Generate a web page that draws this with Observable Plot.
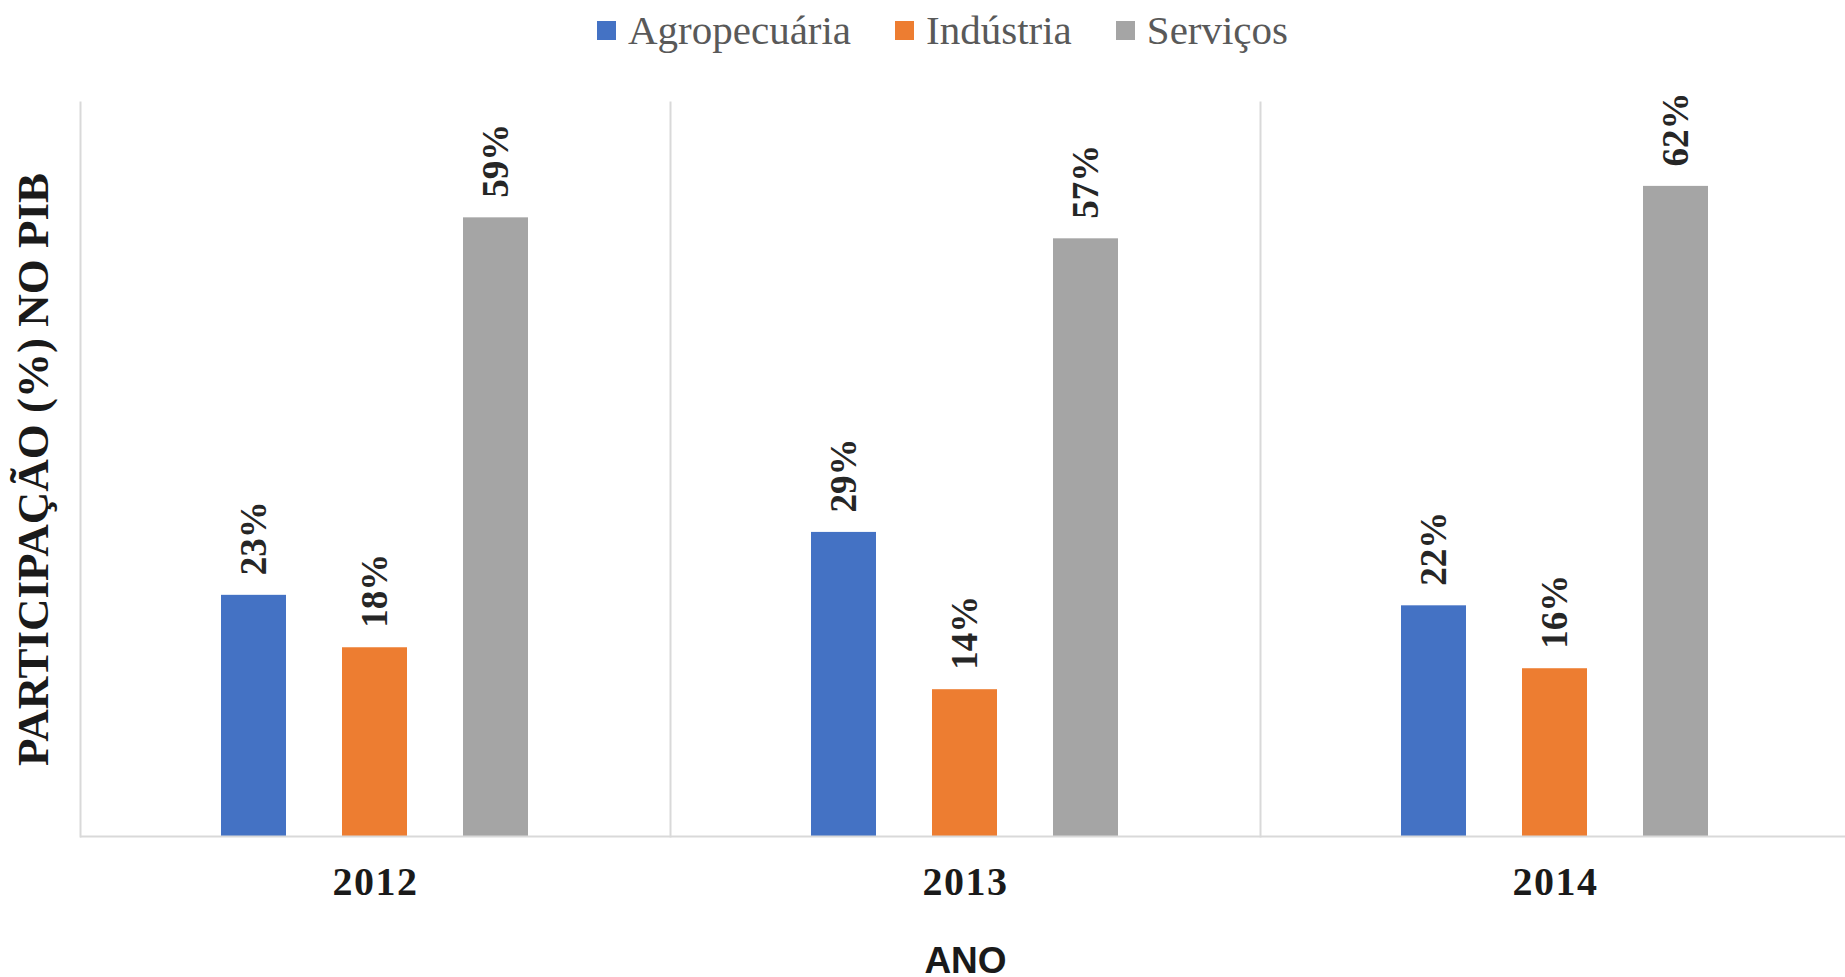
<!DOCTYPE html>
<html>
<head>
<meta charset="utf-8">
<script src="https://cdn.jsdelivr.net/npm/d3@7"></script>
<script src="https://cdn.jsdelivr.net/npm/@observablehq/plot@0.6"></script>
<style>
  html, body { margin: 0; padding: 0; background: #fff; overflow: hidden; }
  #legend {
    width: 1845px; height: 60px; display: flex; align-items: center; justify-content: center;
    padding-left: 40px; box-sizing: border-box;
    font-family: "Liberation Serif", serif; font-size: 41px; color: #595959; line-height: 1;
  }
  .item { display: flex; align-items: center; margin: 0 22px; }
  .sw { width: 19px; height: 19px; margin-right: 12px; }
  #chart svg { display: block; }
  g[aria-label="fx-axis tick label"] text { letter-spacing: 1.5px; }
</style>
</head>
<body>
<div id="legend"></div>
<div id="chart"></div>
<script>
const years = ["2012", "2013", "2014"];
const sectors = ["Agropecuária", "Indústria", "Serviços"];
const agropecuaria = [23, 29, 22];
const industria = [18, 14, 16];
const servicos = [59, 57, 62];
const colors = ["#4472C4", "#ED7D31", "#A5A5A5"];
const yLabel = "PARTICIPAÇÃO (%) NO PIB";
const xLabel = "ANO";

const seriesValues = [agropecuaria, industria, servicos];
const data = years.flatMap((year, i) =>
  sectors.map((sector, j) => ({ year, sector, value: seriesValues[j][i] }))
);

// Legend
const legend = document.getElementById("legend");
sectors.forEach((s, i) => {
  const it = document.createElement("div");
  it.className = "item";
  const sw = document.createElement("span");
  sw.className = "sw";
  sw.style.background = colors[i];
  const t = document.createElement("span");
  t.textContent = s;
  it.appendChild(sw); it.appendChild(t);
  legend.appendChild(it);
});

const serif = "Liberation Serif, Times New Roman, serif";
const chart = Plot.plot({
  width: 1851,
  height: 917,
  marginTop: 42,
  marginBottom: 141,
  marginLeft: 79,
  marginRight: 0,
  style: { fontFamily: serif, background: "white", overflow: "visible", maxWidth: "none" },
  fx: { domain: years, padding: 0, label: null },
  x: { domain: sectors, paddingInner: 0.46, paddingOuter: 1.164, axis: null },
  y: { domain: [0, 70] },
  color: { domain: sectors, range: colors },
  marks: [
    Plot.frame({ anchor: "left", stroke: "#d9d9d9", strokeWidth: 2 }),
    Plot.barY(data, { fx: "year", x: "sector", y: "value", fill: "sector" }),
    Plot.ruleY([0], { stroke: "#d9d9d9", strokeWidth: 2 }),
    Plot.text(data, {
      fx: "year", x: "sector", y: "value",
      text: d => d.value + "%",
      rotate: -90, textAnchor: "start", dy: -20,
      fontSize: 37, fontWeight: "bold", fontFamily: serif, fill: "#262626"
    }),
    Plot.axisFx({
      anchor: "bottom", tickSize: 0, tickPadding: 30, label: null,
      fontSize: 40, fontWeight: "bold", fontFamily: serif, fill: "#1a1a1a"
    }),
    Plot.axisFx({
      anchor: "bottom", tickSize: 0, tickFormat: () => "", label: xLabel,
      labelAnchor: "center", labelOffset: 136, labelArrow: "none",
      fontSize: 37, fontWeight: "bold", fontFamily: "Liberation Sans, Arial, sans-serif", fill: "#1a1a1a"
    }),
    Plot.axisY({
      anchor: "left", ticks: [], tickSize: 0, label: yLabel,
      labelAnchor: "center", labelOffset: 64, labelArrow: "none",
      fontSize: 45, fontWeight: "bold", fontFamily: serif, fill: "#1a1a1a"
    })
  ]
});
document.getElementById("chart").appendChild(chart);
</script>
</body>
</html>
